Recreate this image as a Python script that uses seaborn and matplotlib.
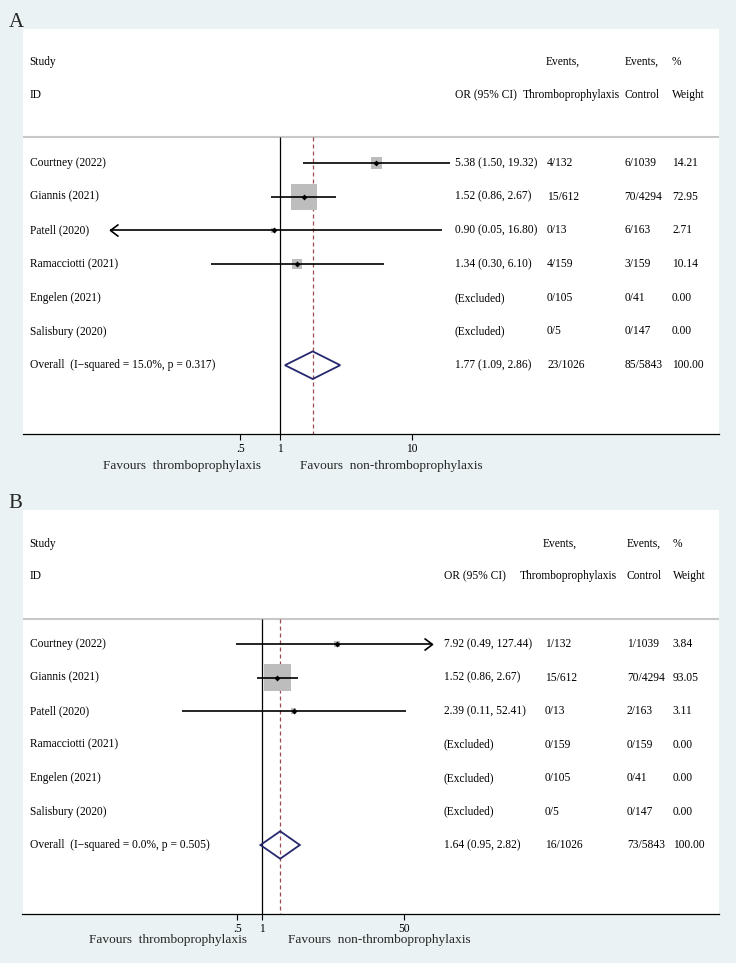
import numpy as np
import pandas as pd
import matplotlib
matplotlib.use("Agg")
import matplotlib.pyplot as plt
import seaborn as sns
from matplotlib.path import Path
from matplotlib.patches import Polygon
from matplotlib.ticker import NullLocator

# ---------------- data ----------------
studies = ["Courtney (2022)", "Giannis (2021)", "Patell (2020)",
           "Ramacciotti (2021)", "Engelen (2021)", "Salisbury (2020)"]

# Panel A
a_or = [5.38, 1.52, 0.90, 1.34, np.nan, np.nan]
a_lo = [1.50, 0.86, 0.05, 0.30, np.nan, np.nan]
a_hi = [19.32, 2.67, 16.80, 6.10, np.nan, np.nan]
a_ev_t = ["4/132", "15/612", "0/13", "4/159", "0/105", "0/5"]
a_ev_c = ["6/1039", "70/4294", "6/163", "3/159", "0/41", "0/147"]
a_wt = [14.21, 72.95, 2.71, 10.14, 0.00, 0.00]
a_overall = [1.77, 1.09, 2.86]
a_overall_ev = ["23/1026", "85/5843"]
a_het = [15.0, 0.317]
a_ticks = [0.5, 1, 10]
a_ticklabels = [".5", "1", "10"]

# Panel B
b_or = [7.92, 1.52, 2.39, np.nan, np.nan, np.nan]
b_lo = [0.49, 0.86, 0.11, np.nan, np.nan, np.nan]
b_hi = [127.44, 2.67, 52.41, np.nan, np.nan, np.nan]
b_ev_t = ["1/132", "15/612", "0/13", "0/159", "0/105", "0/5"]
b_ev_c = ["1/1039", "70/4294", "2/163", "0/159", "0/41", "0/147"]
b_wt = [3.84, 93.05, 3.11, 0.00, 0.00, 0.00]
b_overall = [1.64, 0.95, 2.82]
b_overall_ev = ["16/1026", "73/5843"]
b_het = [0.0, 0.505]
b_ticks = [0.5, 1, 50]
b_ticklabels = [".5", "1", "50"]

fav_left = "Favours  thromboprophylaxis"
fav_right = "Favours  non-thromboprophylaxis"

# ---------------- style ----------------
sns.set_style("white")
plt.rcParams["font.family"] = ["Liberation Serif", "DejaVu Serif"]

W, H = 736, 963
BG = "#EAF2F3"
fig = plt.figure(figsize=(W / 100, H / 100), dpi=100, facecolor=BG)

FS = 8.3
AX_L, AX_R = 22.5, 719.0


def fx(px):
    return px / W


def fy(py):
    return 1 - py / H


def chevron(direction):
    # open arrowhead, tip at the data point
    s = 1 if direction == "left" else -1
    verts = [(s * 1.33, 1.0), (0.0, 0.0), (s * 1.33, -1.0)]
    return Path(verts, [Path.MOVETO, Path.LINETO, Path.LINETO])


def panel(lay, label, ors, los, his, ev_t, ev_c, wts, overall, overall_ev, het,
          ticks, ticklabels):
    top, bot = lay["top"], lay["bot"]
    ax = fig.add_axes([fx(AX_L), fy(bot), (AX_R - AX_L) / W, (bot - top) / H])
    ax.set_facecolor("white")
    k, null = lay["k"], lay["null"]
    ax.set_xscale("log")
    ax.set_xlim(np.exp((AX_L - null) / k), np.exp((AX_R - null) / k))
    row0, sp = lay["row0"], lay["sp"]
    ybot = (bot - row0) / sp
    ax.set_ylim(ybot, (top - row0) / sp)
    clip = np.exp(lay["half"] / k)

    def colx(px):
        return (px - AX_L) / (AX_R - AX_L)

    tr = ax.get_yaxis_transform()  # x axes-fraction, y data
    n = len(studies)
    rows = np.arange(n)
    orow = n

    # separator, reference lines
    sep = -0.76
    ax.axhline(sep, color="#C8C8C8", lw=1.5, zorder=1)
    ax.vlines(1, sep, ybot, color="black", lw=0.9, zorder=2)
    ax.vlines(overall[0], sep, ybot, color="#9E4A55", lw=0.9,
              linestyles=(0, (3.2, 2.4)), zorder=2)

    df = pd.DataFrame({"or": ors, "lo": los, "hi": his, "wt": wts, "row": rows})
    d = df.dropna()

    # boxes
    smax = (lay["box"] * 0.72) ** 2
    sns.scatterplot(data=d, x="or", y="row", size="wt", sizes=(0, smax),
                    size_norm=(0, d["wt"].max()), marker="s", color="#BDBDBD",
                    linewidth=0, legend=False, ax=ax, zorder=3)
    # CI lines
    lo_c = np.maximum(d["lo"].values, 1 / clip)
    hi_c = np.minimum(d["hi"].values, clip)
    ax.hlines(d["row"].values, lo_c, hi_c, color="black", lw=1.2, zorder=4)
    for r, lo, hi in zip(d["row"].values, d["lo"].values, d["hi"].values):
        if lo < 1 / clip:
            ax.plot([1 / clip], [r], marker=chevron("left"), ms=11.5,
                    mfc="none", mec="black", mew=1.2, zorder=4)
        if hi > clip:
            ax.plot([clip], [r], marker=chevron("right"), ms=11.5,
                    mfc="none", mec="black", mew=1.2, zorder=4)
    # point estimates
    sns.scatterplot(data=d, x="or", y="row", marker="D", color="black", s=9,
                    linewidth=0, legend=False, ax=ax, zorder=5)

    # overall diamond
    est, olo, ohi = overall
    h = 0.41
    ax.add_patch(Polygon([(olo, orow), (est, orow - h), (ohi, orow), (est, orow + h)],
                         closed=True, fill=False, edgecolor="#26286E", lw=1.3,
                         zorder=5))

    # headers
    c = lay["cols"]
    txt = dict(transform=tr, fontsize=FS, va="center", ha="left", color="black")
    ax.text(colx(c["study"]), -3, "Study", **txt)
    ax.text(colx(c["study"]), -2.02, "ID", **txt)
    ax.text(colx(c["or"]), -2.02, "OR (95% CI)", **txt)
    ax.text(colx(c["evt_h"]), -3, "Events,", **txt)
    ax.text(colx(c["thr_h"]), -2.02, "Thromboprophylaxis", **txt)
    ax.text(colx(c["ctl"]), -3, "Events,", **txt)
    ax.text(colx(c["ctl"]), -2.02, "Control", **txt)
    ax.text(colx(c["wt"]), -3, "%", **txt)
    ax.text(colx(c["wt"]), -2.02, "Weight", **txt)

    # study rows
    for i in range(n):
        ax.text(colx(c["study"]), i, studies[i], **txt)
        if np.isnan(ors[i]):
            s = "(Excluded)"
        else:
            s = f"{ors[i]:.2f} ({los[i]:.2f}, {his[i]:.2f})"
        ax.text(colx(c["or"]), i, s, **txt)
        ax.text(colx(c["evt"]), i, ev_t[i], **txt)
        ax.text(colx(c["ctl"]), i, ev_c[i], **txt)
        ax.text(colx(c["wt"]), i, f"{wts[i]:.2f}", **txt)

    ax.text(colx(c["study"]), orow,
            f"Overall  (I\u2212squared = {het[0]:.1f}%, p = {het[1]:.3f})", **txt)
    ax.text(colx(c["or"]), orow, f"{est:.2f} ({olo:.2f}, {ohi:.2f})", **txt)
    ax.text(colx(c["evt"]), orow, overall_ev[0], **txt)
    ax.text(colx(c["ctl"]), orow, overall_ev[1], **txt)
    ax.text(colx(c["wt"]), orow, f"{100:.2f}", **txt)

    # axis
    for side in ["top", "left", "right"]:
        ax.spines[side].set_visible(False)
    ax.spines["bottom"].set_color("black")
    ax.spines["bottom"].set_linewidth(0.9)
    ax.set_yticks([])
    ax.set_xticks(ticks)
    ax.set_xticklabels(ticklabels)
    ax.xaxis.set_minor_locator(NullLocator())
    ax.tick_params(axis="x", direction="out", length=4.3, width=0.8, pad=2.5,
                   labelsize=FS, colors="black", bottom=True)
    ax.set_xlabel("")
    ax.set_ylabel("")

    # favours labels and panel letter
    fig.text(fx(lay["favL"]), fy(lay["favY"]), fav_left, fontsize=9.6,
             ha="right", va="center")
    fig.text(fx(lay["favR"]), fy(lay["favY"]), fav_right, fontsize=9.6,
             ha="left", va="center")
    fig.text(fx(8.5), fy(lay["labY"]), label, fontsize=15, ha="left", va="center")
    return ax


lay_a = dict(top=29, bot=434, row0=163, sp=33.7, null=280.0, k=57.3, half=169.7,
             box=26, favL=261, favR=299.5, favY=466, labY=22.5,
             cols=dict(study=29.6, or_=0, **{"or": 454.5}, evt=547, evt_h=546,
                       thr_h=522.5, ctl=624.4, wt=672))
lay_b = dict(top=510, bot=914, row0=644, sp=33.5, null=262.3, k=36.2, half=169.7,
             box=27.5, favL=247.4, favR=288, favY=940, labY=503,
             cols=dict(study=29.6, or_=0, **{"or": 443.7}, evt=544.6, evt_h=543,
                       thr_h=520, ctl=626.8, wt=672.8))

panel(lay_a, "A", a_or, a_lo, a_hi, a_ev_t, a_ev_c, a_wt, a_overall,
      a_overall_ev, a_het, a_ticks, a_ticklabels)
panel(lay_b, "B", b_or, b_lo, b_hi, b_ev_t, b_ev_c, b_wt, b_overall,
      b_overall_ev, b_het, b_ticks, b_ticklabels)

fig.savefig("out.png", dpi=100, facecolor=BG)
